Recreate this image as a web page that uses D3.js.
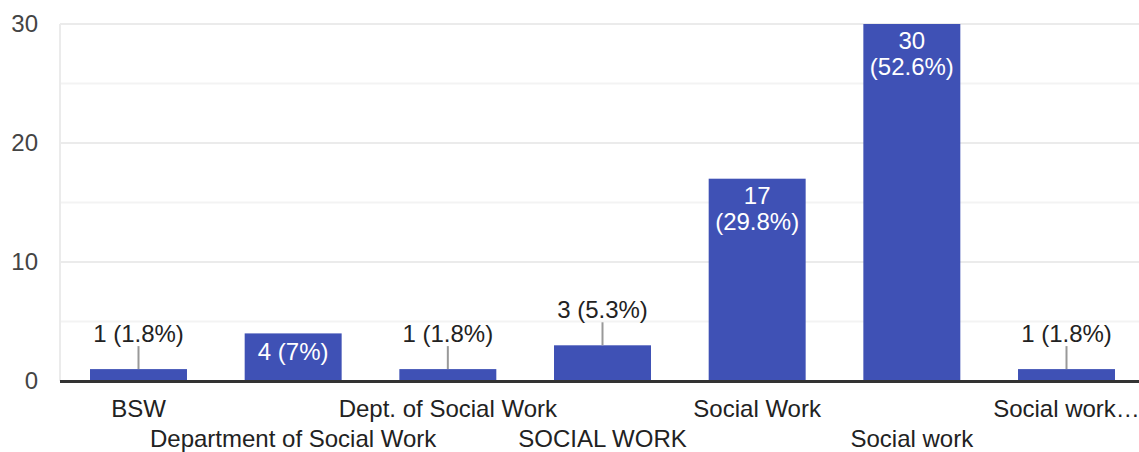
<!DOCTYPE html>
<html>
<head>
<meta charset="utf-8">
<script src="https://cdn.jsdelivr.net/npm/d3@7"></script>
<style>
  body { margin: 0; background: #fff; }
  text { font-family: "Liberation Sans", Arial, sans-serif; }
</style>
</head>
<body>
<svg id="chart"></svg>
<script>
// Chart data
const categories = ['BSW', 'Department of Social Work', 'Dept. of Social Work', 'SOCIAL WORK', 'Social Work', 'Social work', 'Social work…'];
const counts = [1, 4, 1, 3, 17, 30, 1];
const percents = ['1.8%', '7%', '1.8%', '5.3%', '29.8%', '52.6%', '1.8%'];
const yTicks = [0, 10, 20, 30];
const yMinorTicks = [5, 15, 25];

const W = 1139, H = 452;
const margin = { top: 24, right: 0, bottom: 71, left: 60 };
const width = W - margin.left - margin.right;
const height = H - margin.top - margin.bottom;
const fontSize = "24px";

const svg = d3.select("#chart")
    .attr("width", W)
    .attr("height", H)
    .append("g")
    .attr("transform", `translate(${margin.left},${margin.top})`);

const x = d3.scaleBand()
    .domain(categories)
    .range([0, 1085])
    .paddingInner(0.373)
    .paddingOuter(0.194);

const y = d3.scaleLinear()
    .domain([0, 30])
    .range([height, 0]);

// Gridlines
svg.selectAll(".minor")
    .data(yMinorTicks)
    .enter().append("line")
    .attr("x1", 0).attr("x2", width)
    .attr("y1", d => y(d)).attr("y2", d => y(d))
    .attr("stroke", "#f3f3f3")
    .attr("stroke-width", 2);

svg.selectAll(".major")
    .data(yTicks.filter(d => d > 0))
    .enter().append("line")
    .attr("x1", 0).attr("x2", width)
    .attr("y1", d => y(d)).attr("y2", d => y(d))
    .attr("stroke", "#ebebeb")
    .attr("stroke-width", 2);

svg.append("line")
    .attr("x1", 0).attr("x2", 0)
    .attr("y1", 0).attr("y2", height)
    .attr("stroke", "#ebebeb")
    .attr("stroke-width", 2);

// Y axis labels
const yAxis = svg.append("g")
    .call(d3.axisLeft(y).tickValues(yTicks).tickSize(0).tickPadding(22));
yAxis.select(".domain").remove();
yAxis.selectAll("text")
    .style("font-size", fontSize)
    .attr("fill", "#444");

// Bars
svg.selectAll(".bar")
    .data(counts)
    .enter().append("rect")
    .attr("x", (d, i) => x(categories[i]))
    .attr("y", d => y(d))
    .attr("width", x.bandwidth())
    .attr("height", d => height - y(d))
    .attr("fill", "#3f51b5");

// Baseline
svg.append("line")
    .attr("x1", 0).attr("x2", width)
    .attr("y1", height + 0.5).attr("y2", height + 0.5)
    .attr("stroke", "#333")
    .attr("stroke-width", 3);

// Value labels
counts.forEach((d, i) => {
    const cx = x(categories[i]) + x.bandwidth() / 2;
    const barH = height - y(d);
    const label = `${d} (${percents[i]})`;
    if (barH > 100) {
        // two line label inside
        svg.append("text")
            .attr("x", cx).attr("y", y(d) + 25)
            .attr("text-anchor", "middle").attr("fill", "#fff")
            .style("font-size", fontSize).text(d);
        svg.append("text")
            .attr("x", cx).attr("y", y(d) + 51)
            .attr("text-anchor", "middle").attr("fill", "#fff")
            .style("font-size", fontSize).text(`(${percents[i]})`);
    } else if (barH > 40) {
        svg.append("text")
            .attr("x", cx).attr("y", y(d) + 27)
            .attr("text-anchor", "middle").attr("fill", "#fff")
            .style("font-size", fontSize).text(label);
    } else {
        svg.append("line")
            .attr("x1", cx).attr("x2", cx)
            .attr("y1", y(d)).attr("y2", y(d) - 23)
            .attr("stroke", "#999").attr("stroke-width", 2);
        svg.append("text")
            .attr("x", cx).attr("y", y(d) - 27)
            .attr("text-anchor", "middle").attr("fill", "#222")
            .style("font-size", fontSize).text(label);
    }
});

// X axis labels, staggered
svg.selectAll(".xlabel")
    .data(categories)
    .enter().append("text")
    .attr("x", d => x(d) + x.bandwidth() / 2)
    .attr("y", (d, i) => height + (i % 2 === 0 ? 36 : 66))
    .attr("text-anchor", "middle")
    .attr("fill", "#222")
    .style("font-size", fontSize)
    .text(d => d);
</script>
</body>
</html>
